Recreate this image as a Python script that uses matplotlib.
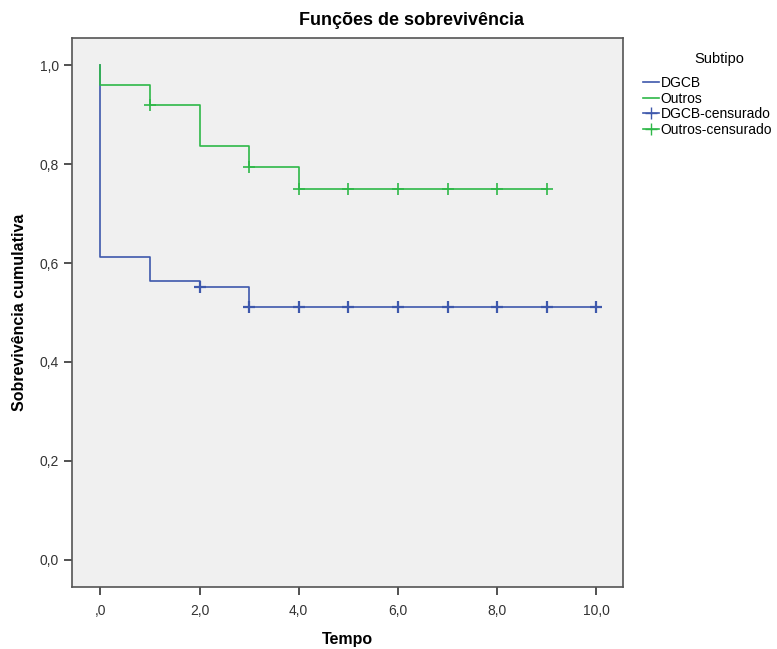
import matplotlib
matplotlib.use("Agg")
import matplotlib.pyplot as plt
from matplotlib.lines import Line2D

# Data
dgcb_t = [0, 0, 1, 2, 3, 10]
dgcb_s = [1.0, 0.612, 0.563, 0.551, 0.512, 0.512]
dgcb_cens_t = [2, 3, 4, 5, 6, 7, 8, 9, 10]
dgcb_cens_s = [0.551, 0.512, 0.512, 0.512, 0.512, 0.512, 0.512, 0.512, 0.512]

outros_t = [0, 0, 1, 2, 3, 4, 9]
outros_s = [1.0, 0.96, 0.919, 0.836, 0.795, 0.749, 0.749]
outros_cens_t = [1, 3, 4, 5, 6, 7, 8, 9]
outros_cens_s = [0.919, 0.795, 0.749, 0.749, 0.749, 0.749, 0.749, 0.749]

xticks = [0, 2, 4, 6, 8, 10]
xticklabels = [",0", "2,0", "4,0", "6,0", "8,0", "10,0"]
yticks = [0.0, 0.2, 0.4, 0.6, 0.8, 1.0]
yticklabels = ["0,0", "0,2", "0,4", "0,6", "0,8", "1,0"]
legend_labels = ["DGCB", "Outros", "DGCB-censurado", "Outros-censurado"]

blue = "#3E58AC"
green = "#2EB848"

plt.rcParams['font.family'] = ['Liberation Sans', 'DejaVu Sans']

fig = plt.figure(figsize=(7.77, 6.49), dpi=100)
ax = fig.add_axes([0.0927, 0.0955, 0.802 - 0.0927, 0.9414 - 0.0955])
ax.set_facecolor("#F0F0F0")

ax.step(dgcb_t, dgcb_s, where='post', color=blue, lw=1.2)
ax.step(outros_t, outros_s, where='post', color=green, lw=1.2)
ax.plot(dgcb_cens_t, dgcb_cens_s, ls='none', marker='+', ms=8, mew=1.6, color=blue)
ax.plot(outros_cens_t, outros_cens_s, ls='none', marker='+', ms=8, mew=1.2, color=green)

ax.set_xlim(-0.57, 10.54)
ax.set_ylim(-0.055, 1.055)
ax.set_xticks(xticks)
ax.set_xticklabels(xticklabels)
ax.set_yticks(yticks)
ax.set_yticklabels(yticklabels)
ax.tick_params(axis='both', direction='out', length=6, width=1.2, color='#333333',
               labelsize=10, labelcolor='#333333')
ax.tick_params(axis='x', pad=6)
for sp in ax.spines.values():
    sp.set_color('#555555')
    sp.set_linewidth(1.2)

ax.set_xlabel("Tempo", fontsize=11.5, fontweight='bold', labelpad=10)
ax.set_ylabel("Sobrevivência cumulativa", fontsize=11.5, fontweight='bold', labelpad=9)
fig.text(0.53, 0.968, "Funções de sobrevivência", ha='center', va='center',
         fontsize=13, fontweight='bold')

handles = [Line2D([], [], color=blue, lw=1.2),
           Line2D([], [], color=green, lw=1.2),
           Line2D([], [], color=blue, lw=1.2, marker='+', ms=9),
           Line2D([], [], color=green, lw=1.2, marker='+', ms=9)]
leg = fig.legend(handles, legend_labels, title="Subtipo", loc='upper left',
                 bbox_to_anchor=(0.820, 0.928), frameon=False, fontsize=10,
                 title_fontsize=10.5, handlelength=1.2, handletextpad=0.1,
                 labelspacing=0.12, borderaxespad=0)
leg._legend_box.align = "left"
leg._legend_box.sep = 7
leg.get_title().set_position((52, 0))

fig.savefig("out.png", dpi=100)
